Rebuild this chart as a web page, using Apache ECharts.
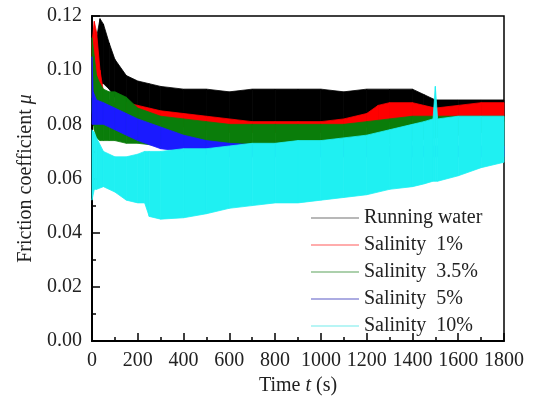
<!DOCTYPE html>
<html>
<head>
<meta charset="utf-8">
<script src="https://cdn.jsdelivr.net/npm/echarts@6/dist/echarts.min.js"></script>
<style>
html, body { margin: 0; padding: 0; background: #fff; }
#main { width: 534px; height: 401px; }
</style>
</head>
<body>
<div id="main"></div>
<script>
// envelopes (upper / lower) of each noisy friction trace
var rwT  = [0, 10, 20, 35, 50, 75, 100, 150, 200, 250, 300, 400, 500, 600, 700, 800, 900, 1000, 1100, 1200, 1300, 1400, 1450, 1500, 1600, 1700, 1800];
var rwHi = [0.098, 0.110, 0.112, 0.119, 0.117, 0.110, 0.104, 0.098, 0.096, 0.095, 0.094, 0.093, 0.093, 0.092, 0.093, 0.093, 0.093, 0.093, 0.092, 0.093, 0.093, 0.093, 0.091, 0.089, 0.089, 0.089, 0.089];
var rwLo = [0.090, 0.092, 0.094, 0.095, 0.095, 0.093, 0.090, 0.086, 0.084, 0.083, 0.082, 0.080, 0.080, 0.080, 0.080, 0.080, 0.080, 0.080, 0.080, 0.080, 0.081, 0.082, 0.081, 0.081, 0.081, 0.081, 0.081];

var s1T  = [0, 10, 20, 35, 50, 75, 100, 150, 200, 300, 400, 500, 600, 700, 800, 900, 1000, 1100, 1200, 1250, 1300, 1400, 1500, 1600, 1700, 1800];
var s1Hi = [0.110, 0.118, 0.114, 0.100, 0.092, 0.089, 0.088, 0.088, 0.087, 0.085, 0.084, 0.083, 0.082, 0.081, 0.081, 0.081, 0.081, 0.082, 0.084, 0.087, 0.088, 0.088, 0.086, 0.087, 0.088, 0.088];
var s1Lo = [0.090, 0.088, 0.085, 0.084, 0.083, 0.083, 0.083, 0.083, 0.082, 0.080, 0.079, 0.078, 0.077, 0.077, 0.077, 0.077, 0.077, 0.078, 0.079, 0.080, 0.081, 0.082, 0.082, 0.083, 0.083, 0.083];

var s35T  = [0, 10, 20, 35, 50, 75, 100, 150, 200, 300, 400, 500, 600, 700, 800, 900, 1000, 1100, 1200, 1300, 1400, 1500, 1600, 1700, 1800];
var s35Hi = [0.112, 0.105, 0.098, 0.095, 0.093, 0.092, 0.092, 0.090, 0.086, 0.083, 0.082, 0.081, 0.080, 0.080, 0.080, 0.080, 0.080, 0.080, 0.081, 0.082, 0.083, 0.083, 0.083, 0.083, 0.083];
var s35Lo = [0.085, 0.078, 0.075, 0.074, 0.074, 0.074, 0.074, 0.073, 0.073, 0.072, 0.072, 0.072, 0.072, 0.072, 0.072, 0.072, 0.072, 0.072, 0.072, 0.073, 0.074, 0.075, 0.076, 0.077, 0.078];

var s5T  = [0, 5, 20, 50, 100, 150, 200, 300, 400, 500, 600, 800, 1000, 1200, 1400, 1600, 1800];
var s5Hi = [0.105, 0.092, 0.089, 0.088, 0.086, 0.084, 0.082, 0.079, 0.076, 0.074, 0.073, 0.072, 0.072, 0.072, 0.072, 0.072, 0.072];
var s5Lo = [0.080, 0.080, 0.080, 0.080, 0.078, 0.076, 0.074, 0.071, 0.070, 0.069, 0.068, 0.068, 0.068, 0.068, 0.068, 0.068, 0.068];

var s10T  = [0, 10, 20, 50, 100, 150, 200, 230, 250, 300, 400, 500, 600, 700, 800, 900, 1000, 1100, 1200, 1300, 1400, 1450, 1490, 1500, 1510, 1600, 1700, 1800];
var s10Hi = [0.078, 0.077, 0.075, 0.070, 0.068, 0.068, 0.069, 0.070, 0.070, 0.070, 0.071, 0.071, 0.072, 0.073, 0.073, 0.074, 0.074, 0.075, 0.076, 0.078, 0.080, 0.081, 0.082, 0.094, 0.082, 0.083, 0.083, 0.083];
var s10Lo = [0.052, 0.056, 0.056, 0.057, 0.055, 0.052, 0.051, 0.051, 0.046, 0.045, 0.0455, 0.047, 0.049, 0.050, 0.051, 0.051, 0.052, 0.053, 0.054, 0.056, 0.057, 0.058, 0.059, 0.059, 0.059, 0.061, 0.064, 0.066];

var names = ['Running water', 'Salinity  1%', 'Salinity  3.5%', 'Salinity  5%', 'Salinity  10%'];
var colors = ['#000000', '#ff0000', '#0a7d0a', '#1a1aff', '#1ff0f2'];
var legendColors = ['#a0a0a0', '#ff9090', '#90c090', '#9090d8', '#a0f2f2'];

var FONT = '"Liberation Serif", "Times New Roman", serif';

// each trace drawn as a filled band between its lower and upper envelope
function band(name, color, legendColor, t, hi, lo) {
    var data = [];
    for (var i = 0; i < t.length; i++) {
        data.push([t[i], hi[i], lo[i]]);
    }
    return {
        name: name,
        type: 'custom',
        silent: true,
        itemStyle: { color: legendColor },
        encode: { x: 0, y: [1, 2] },
        data: data,
        renderItem: function (params, api) {
            var i = params.dataIndexInside;
            if (i >= params.dataInsideLength - 1) return;
            var a1 = api.coord([api.value(0, i), api.value(1, i)]);
            var b1 = api.coord([api.value(0, i + 1), api.value(1, i + 1)]);
            var b2 = api.coord([api.value(0, i + 1), api.value(2, i + 1)]);
            var a2 = api.coord([api.value(0, i), api.value(2, i)]);
            return {
                type: 'polygon',
                shape: { points: [a1, b1, b2, a2] },
                style: { fill: color, stroke: color, lineWidth: 0.8 }
            };
        }
    };
}

var series = [
    band(names[0], colors[0], legendColors[0], rwT, rwHi, rwLo),
    band(names[1], colors[1], legendColors[1], s1T, s1Hi, s1Lo),
    band(names[2], colors[2], legendColors[2], s35T, s35Hi, s35Lo),
    band(names[3], colors[3], legendColors[3], s5T, s5Hi, s5Lo),
    band(names[4], colors[4], legendColors[4], s10T, s10Hi, s10Lo)
];

var myChart = echarts.init(document.getElementById('main'));

var option = {
    animation: false,
    backgroundColor: '#fff',
    textStyle: { fontFamily: FONT },
    grid: {
        left: 92, right: 30, top: 16, bottom: 60,
        show: true, borderColor: '#000', borderWidth: 1.5
    },
    legend: {
        data: names,
        orient: 'vertical',
        left: 306, top: 203,
        icon: 'rect',
        itemWidth: 48, itemHeight: 1.5,
        itemGap: 7,
        selectedMode: false,
        textStyle: { fontFamily: FONT, fontSize: 20, color: '#222' }
    },
    xAxis: {
        type: 'value',
        min: 0, max: 1800, interval: 200,
        name: 'Time {i|t} (s)',
        nameLocation: 'middle',
        nameGap: 35,
        nameTextStyle: {
            fontFamily: FONT, fontSize: 20, color: '#222',
            rich: { i: { fontFamily: FONT, fontSize: 20, fontStyle: 'italic', color: '#222' } }
        },
        axisLine: { onZero: false, lineStyle: { color: '#000', width: 2 } },
        axisTick: { inside: true, length: 8, lineStyle: { color: '#000', width: 1.5 } },
        minorTick: { show: true, splitNumber: 2, length: 4, lineStyle: { color: '#000', width: 1.5 } },
        splitLine: { show: false },
        axisLabel: {
            fontFamily: FONT, fontSize: 20, color: '#222', margin: 10,
            formatter: function (v) { return String(v); }
        }
    },
    yAxis: {
        type: 'value',
        min: 0, max: 0.12, interval: 0.02,
        name: 'Friction coefficient {i|μ}',
        nameLocation: 'middle',
        nameGap: 56,
        nameTextStyle: {
            fontFamily: FONT, fontSize: 20, color: '#222',
            rich: { i: { fontFamily: FONT, fontSize: 20, fontStyle: 'italic', color: '#222' } }
        },
        axisLine: { show: true, onZero: false, lineStyle: { color: '#000', width: 2 } },
        axisTick: { inside: true, length: 8, lineStyle: { color: '#000', width: 1.5 } },
        minorTick: { show: true, splitNumber: 2, length: 4, lineStyle: { color: '#000', width: 1.5 } },
        splitLine: { show: false },
        axisLabel: {
            fontFamily: FONT, fontSize: 20, color: '#222', margin: 10,
            formatter: function (v) { return v.toFixed(2); }
        }
    },
    series: series
};

myChart.setOption(option);
</script>
</body>
</html>
